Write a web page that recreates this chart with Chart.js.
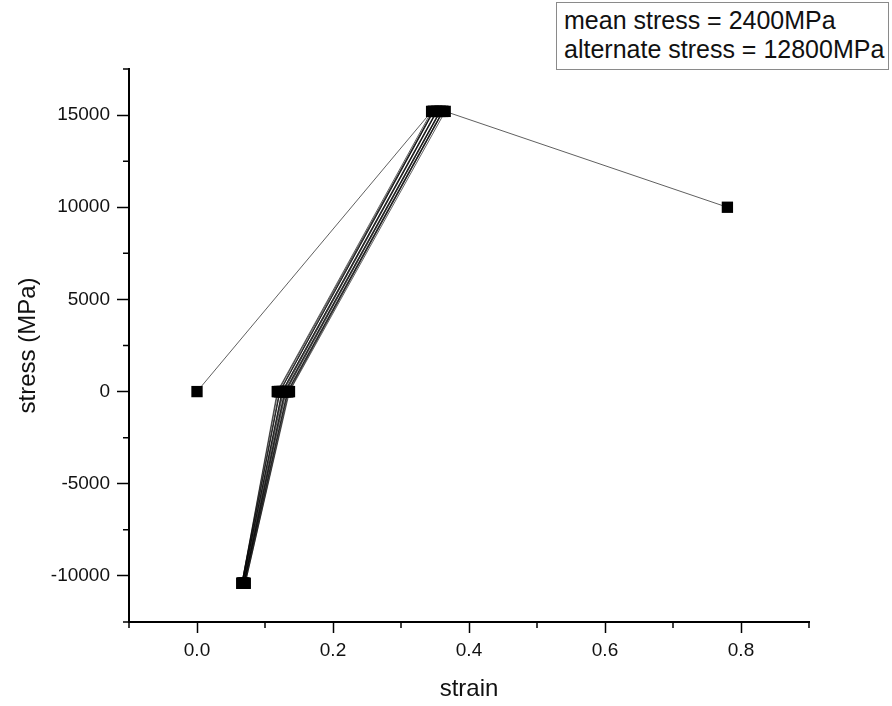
<!DOCTYPE html>
<html>
<head>
<meta charset="utf-8">
<script src="https://cdn.jsdelivr.net/npm/chart.js@4/dist/chart.umd.min.js"></script>
<style>
    body { margin: 0; background: #fff; }
    #wrap { position: relative; width: 892px; height: 706px; }
    .note-box {
        position: absolute; left: 556px; top: 2px; width: 324px; height: 63px;
        border: 1px solid #8a8a8a; padding-left: 7px;
        font-family: "Liberation Sans", Arial, sans-serif; font-size: 25px; line-height: 29px;
        color: #111; background: #fff; white-space: nowrap; padding-top: 3px;
    }
</style>
</head>
<body>
<div id="wrap">
    <canvas id="stressChart" width="892" height="706"></canvas>
    <div class="note-box">mean stress = 2400MPa<br>alternate stress = 12800MPa</div>
</div>
<script>
// strain / stress pairs (cycles drift slightly to the right)
const strain = [0, 0.345,
    0.118, 0.066, 0.119, 0.347,
    0.121, 0.066, 0.122, 0.348,
    0.122, 0.067, 0.125, 0.352,
    0.125, 0.067, 0.126, 0.353,
    0.127, 0.068, 0.129, 0.357,
    0.129, 0.069, 0.130, 0.358,
    0.131, 0.069, 0.133, 0.361,
    0.133, 0.070, 0.134, 0.362,
    0.135, 0.071, 0.136, 0.365,
    0.78];
const stress = [0, 15200,
    0, -10400, 0, 15200,
    0, -10400, 0, 15200,
    0, -10400, 0, 15200,
    0, -10400, 0, 15200,
    0, -10400, 0, 15200,
    0, -10400, 0, 15200,
    0, -10400, 0, 15200,
    0, -10400, 0, 15200,
    0, -10400, 0, 15200,
    10000];

// eixos
const xTicks = [0, 0.2, 0.4, 0.6, 0.8];
const xMinorTicks = [-0.1, 0.1, 0.3, 0.5, 0.7, 0.9];
const yTicks = [-10000, -5000, 0, 5000, 10000, 15000];
const yMinorTicks = [-12500, -7500, -2500, 2500, 7500, 12500, 17500];

const fontFamily = '"Liberation Sans", Arial, sans-serif';

// ticks menores desenhados sobre os eixos
const minorTicksPlugin = {
    id: 'minorTicks',
    afterDraw(chart) {
        const ctx = chart.ctx;
        const xs = chart.scales.x, ys = chart.scales.y;
        const area = chart.chartArea;
        ctx.save();
        ctx.strokeStyle = '#000';
        ctx.lineWidth = 1.5;
        ctx.beginPath();
        xMinorTicks.forEach(v => {
            const px = xs.getPixelForValue(v);
            ctx.moveTo(px, area.bottom);
            ctx.lineTo(px, area.bottom + 6);
        });
        yMinorTicks.forEach(v => {
            const py = ys.getPixelForValue(v);
            ctx.moveTo(area.left - 6, py);
            ctx.lineTo(area.left, py);
        });
        ctx.stroke();
        ctx.restore();
    }
};

const points = strain.map((s, i) => ({ x: s, y: stress[i] }));

new Chart(document.getElementById('stressChart'), {
    type: 'scatter',
    data: {
        datasets: [{
            data: points,
            showLine: true,
            borderColor: 'rgba(0, 0, 0, 0.9)',
            borderWidth: 0.7,
            tension: 0,
            pointStyle: 'rect',
            pointRadius: 8,
            pointBackgroundColor: '#000',
            pointBorderWidth: 0
        }]
    },
    options: {
        responsive: false,
        animation: false,
        layout: { padding: { top: 69, right: 83, left: 0, bottom: 0 } },
        plugins: {
            legend: { display: false },
            tooltip: { enabled: false }
        },
        scales: {
            x: {
                type: 'linear',
                min: -0.1,
                max: 0.9,
                afterBuildTicks: scale => { scale.ticks = xTicks.map(v => ({ value: v })); },
                afterFit: scale => { scale.height = 84; },
                grid: { drawOnChartArea: false, drawTicks: true, tickLength: 11, tickColor: '#000', tickWidth: 1.5 },
                border: { display: true, color: '#000', width: 2 },
                ticks: {
                    color: '#111',
                    padding: 6,
                    maxRotation: 0,
                    font: { family: fontFamily, size: 19 },
                    callback: v => Number(v).toFixed(1)
                },
                title: {
                    display: true,
                    text: 'strain',
                    color: '#111',
                    font: { family: fontFamily, size: 24 },
                    padding: { top: 0, bottom: 2 }
                }
            },
            y: {
                type: 'linear',
                min: -12500,
                max: 17500,
                afterBuildTicks: scale => { scale.ticks = yTicks.map(v => ({ value: v })); },
                afterFit: scale => { scale.width = 129; },
                grid: { drawOnChartArea: false, drawTicks: true, tickLength: 12, tickColor: '#000', tickWidth: 1.5 },
                border: { display: true, color: '#000', width: 2 },
                ticks: {
                    color: '#111',
                    padding: 7,
                    font: { family: fontFamily, size: 19 },
                    callback: v => String(v)
                },
                title: {
                    display: true,
                    text: 'stress (MPa)',
                    color: '#111',
                    font: { family: fontFamily, size: 24 },
                    padding: { top: 14, bottom: 0 }
                }
            }
        }
    },
    plugins: [minorTicksPlugin]
});
</script>
</body>
</html>
